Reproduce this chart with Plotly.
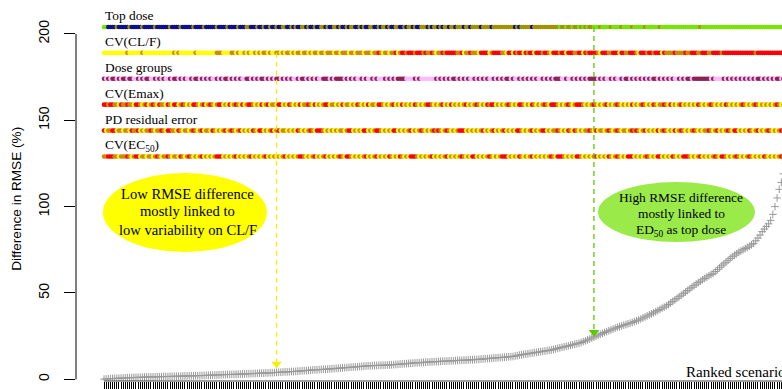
import plotly.graph_objects as go

# ---------------- data ----------------
rmse_diff = [
    0.1, 0.2, 0.3, 0.3, 0.4, 0.5, 0.6, 0.6, 0.7, 0.8,
    0.8, 0.9, 0.9, 1.0, 1.0, 1.1, 1.1, 1.2, 1.2, 1.3,
    1.3, 1.3, 1.4, 1.4, 1.4, 1.5, 1.5, 1.5, 1.6, 1.6,
    1.6, 1.7, 1.7, 1.7, 1.8, 1.8, 1.8, 1.9, 1.9, 1.9,
    2.0, 2.0, 2.0, 2.1, 2.1, 2.1, 2.2, 2.2, 2.3, 2.3,
    2.4, 2.4, 2.5, 2.5, 2.6, 2.6, 2.7, 2.7, 2.8, 2.8,
    2.8, 2.9, 2.9, 3.0, 3.0, 3.1, 3.1, 3.2, 3.2, 3.3,
    3.3, 3.4, 3.4, 3.5, 3.6, 3.6, 3.7, 3.7, 3.8, 3.8,
    3.9, 4.0, 4.1, 4.1, 4.2, 4.3, 4.3, 4.4, 4.5, 4.5,
    4.6, 4.7, 4.8, 4.9, 5.0, 5.1, 5.2, 5.3, 5.4, 5.5,
    5.5, 5.6, 5.7, 5.8, 5.8, 5.9, 6.0, 6.1, 6.2, 6.3,
    6.4, 6.5, 6.6, 6.7, 6.8, 6.9, 7.0, 7.1, 7.2, 7.3,
    7.4, 7.5, 7.6, 7.7, 7.8, 7.8, 7.9, 8.0, 8.0, 8.1,
    8.1, 8.2, 8.2, 8.3, 8.3, 8.4, 8.5, 8.6, 8.7, 8.8,
    8.9, 9.0, 9.1, 9.2, 9.3, 9.4, 9.5, 9.6, 9.6, 9.7,
    9.8, 9.9, 10.0, 10.0, 10.1, 10.2, 10.2, 10.3, 10.4, 10.5,
    10.5, 10.6, 10.6, 10.7, 10.7, 10.8, 10.9, 11.0, 11.0, 11.1,
    11.1, 11.2, 11.3, 11.3, 11.4, 11.5, 11.6, 11.7, 11.8, 11.9,
    12.0, 12.1, 12.2, 12.3, 12.4, 12.5, 12.6, 12.7, 12.8, 12.9,
    13.0, 13.1, 13.2, 13.5, 13.7, 14.0, 14.2, 14.4, 14.6, 14.8,
    15.0, 15.2, 15.4, 15.6, 15.8, 16.0, 16.2, 16.4, 16.6, 16.8,
    17.0, 17.3, 17.6, 17.9, 18.2, 18.5, 18.8, 19.1, 19.4, 19.7,
    20.0, 20.3, 20.6, 20.9, 21.3, 21.8, 22.3, 22.8, 23.3, 23.9,
    24.5, 25.0, 25.6, 26.1, 26.6, 27.1, 27.6, 28.1, 28.6, 29.1,
    29.6, 30.1, 30.5, 30.9, 31.3, 31.7, 32.1, 32.5, 32.9, 33.4,
    33.9, 34.3, 34.9, 35.5, 36.1, 36.7, 37.3, 37.9, 38.5, 39.1,
    39.8, 40.5, 41.2, 41.8, 42.5, 43.3, 44.2, 45.1, 46.0, 46.9,
    47.8, 48.7, 49.6, 50.5, 51.4, 52.4, 53.3, 54.2, 55.1, 56.0,
    56.8, 57.6, 58.4, 59.2, 60.0, 60.7, 61.4, 62.4, 63.5, 64.6,
    65.7, 66.8, 67.8, 68.9, 70.0, 71.0, 71.9, 72.7, 73.5, 74.3,
    75.0, 75.7, 76.4, 77.1, 77.9, 78.7, 80.2, 81.8, 83.5, 85.5,
    87.0, 88.5, 90.0, 92.0, 95.5, 100.0, 105.0, 110.0, 114.0, 119.0,
    125.0, 133.0, 145.0, 160.0,
]
scenario = list(range(len(rmse_diff)))

# factor levels per ranked scenario (one character per scenario)
top_dose = (
    "GGNNNNONNNNNONNNNNON" "NNNNONNNNNNONNNNONNN" "NNONNNNONNNNNONNNNON"
    "NNNONNNOONNNONNONNON" "NONNOONNONONNOONONNO" "NNOONONNOONONNONOONN"
    "ONONNOONNONOONONNOON" "NONOONONNOOONONOONON" "OONOONOOONOONOOOONOO"
    "OONOOOOOOOOOONONOOOO" "ONOOOOOOOOOOOOGOOGOO" "GOOGOGOGOOGGGOGGGGOG"
    "GGGOGGGGOGGGGGOGGGGG" "GOGGGGGGGGGGGGGGGGGG" "OGGGGGGGGGGGGGGGGGGG"
    "GGGGGGGGGGGGGGGGGGGGGGGG"
)
cv_clf = (
    "YYYYYYYYYYYOYYYYYYOY" "YYYYYYYYYYYYYOYOYYYY" "YYYOYYYYYYYYYOOOYYYY"
    "OOYOYYOYOYYOYOYOOYOY" "YOOYOYOOYOYOOYOOYOYO" "OYOOYOOOYOOYOOOYOOYO"
    "OOYOOOYOOROYOOYOORYO" "RRORRRORRROROOROYOOR" "ORRRRROORYOOROOOYRRR"
    "RYORRRROOYRRYRORRYRO" "RRYRRRORROYRRRORRYRR" "ROORRYRORRRROYRRROOR"
    "RRYRROORRROYRRRORROR" "RRYROOOOROOOOROORRRO" "ORRROORRRRORRRRRRRRR"
    "RRRRRRORRRRRRRRRRRRRRRRR"
)
dose_groups = (
    "MPMPMMPMPMMPMMPPMPMP" "MMPPMPMPMPPMPMMPMPMP" "PMPMMPMPMPMPPMPMPMMP"
    "MPMPMPPMMPMPMPMMPMPM" "PMMPMPMPMPPMPMMPMPMP" "MPPMMMPMPMMMMPMPMPMP"
    "PMPMPPMPMPPPMPMPMPMM" "MMPPPPMPMPPPPPPPMPMP" "MPMPMMPMPMPMPPMPMPMP"
    "MPPMPMPMPMMPMPPMPMPM" "PMPMPPMPMPMPMMMPPMPP" "MPMPMPMPMMMMPMPMPPMP"
    "MPPMPMMPMPMPMPMPMPMM" "PMPMPMPMPPMPMPMMPMMM" "MMMMMPMPPPPMPMPMPMPM"
    "PMPMPMPMMPMPMPMPMMPMPMPM"
)
cv_emax = (
    "RRORROOYROOROOYRROYO" "RYOROYROOYROYRRYOROY" "OYRROYORYOROYORRYOYR"
    "YOROYRYORROYOYRYORYO" "OYRRYOYROYOYRYOOROYR" "YOYORRYOOYOYRYOOYOYR"
    "OYOYRYOOYRROYOYORYOY" "RYOYOYROYOYORROYOYOR" "YOYRYOYOYORYOYOROYOY"
    "RORRYOYOYOROYOYRROYO" "YROYOYOROYRRROYOYORO" "YORRROYOYOROYOYORYOY"
    "OROYOYOYRYOYOROYOYRO" "YOOROYRYOYORYOYOYOYR" "OYOYOROYOYOYROYOYOYO"
    "ROYOYOROYOYOYOYOROYOYOYR"
)
pd_resid = (
    "RYOORRYOOYOOYROORYOY" "OOROYOOROYRROOYROYOO" "YOROYORYOOYROYOYORYO"
    "ROYORYOYOYROYRRYOYOR" "YORYOOYOYOYROYOYOROY" "RRROYOYOYOYOOYORRYOY"
    "OYRRYOYORROYOYOYRRYO" "YOYORYOYOROYOYOROROY" "OROYOYORRRYOYOYOYORY"
    "OYORYOYORYOYOYRROYOY" "ORYOYORRYOYOOROYOYRO" "YROYOYOOROYRYOOYOROY"
    "OROYOOYOROROYORYOYOY" "RYOROYOYRYOROYOYOROY" "OYOOROYORYOYOROYRRYO"
    "YOYROYORYOYOROYOYOROYOYO"
)
cv_ec50 = (
    "OORRROOYOOOROYORRYOO" "YOOYOROYOOROYOOYROYO" "ROYOYORYOYOYORRRYOYO"
    "YORYOYOYORYOYOYORYOY" "OYOYORYOYOYORROYOYOR" "YOYORYOYOYOROYRROYOY"
    "OYORYOYORYOYOYROYOYR" "OYOYRRROYOYOYORYOYOY" "ORYOYOYOROYOYRRYOYOY"
    "OROYOYORRRYOYOYROYOY" "ORYOYOYOYOROYRRROYOY" "OYRROYOYOYORYOYOYROY"
    "OROYOYRRRYOYOYOROYOY" "RRYOYOYROYOYRRROYOYO" "RYOYOYOROYRROYOYOROY"
    "OYOROYOYOYROYOYOYOROYOYO"
)

band_names = ["Top dose", "CV(CL/F)", "Dose groups", "CV(Emax)",
              "PD residual error", "CV(EC<sub>50</sub>)"]
band_levels = [204, 189, 174, 159, 144, 129]
band_codes = [top_dose, cv_clf, dose_groups, cv_emax, pd_resid, cv_ec50]

y_ticks = [0, 50, 100, 150, 200]
arrow_scenarios = [81, 230]   # yellow (low CL/F variability), green (ED50 top dose)

# ---------------- styling ----------------
level_colors = {"G": "#76E600", "O": "#A09400", "N": "#10108C"}
cv_colors = {"Y": "#FFFF00", "O": "#D08A00", "R": "#FF0000"}
dg_colors = {"P": "#FFBBFF", "M": "#8E2358"}
band_palettes = [level_colors, cv_colors, dg_colors, cv_colors, cv_colors, cv_colors]

SERIF = "Liberation Serif, Times New Roman, serif"
SANS = "Liberation Sans, Arial, sans-serif"

fig = go.Figure()

# bands of factor levels
for name, lvl, codes, pal in zip(band_names, band_levels, band_codes, band_palettes):
    fig.add_trace(go.Scatter(
        x=scenario, y=[lvl] * len(scenario), mode="markers",
        marker=dict(size=4.6, color=[pal[c] for c in codes], line=dict(width=0)),
        hoverinfo="skip", showlegend=False,
    ))
    fig.add_annotation(x=0, y=lvl + 6.4, xref="x", yref="y", text=name,
                       showarrow=False, xanchor="left", yanchor="middle",
                       xshift=-1, font=dict(family=SERIF, size=13.4, color="black"))

# ranked curve
fig.add_trace(go.Scatter(
    x=scenario, y=rmse_diff, mode="markers",
    marker=dict(symbol="cross-thin", size=5.5, color="#999999",
                line=dict(width=1, color="#999999")),
    hoverinfo="skip", showlegend=False,
))

# ellipses
fig.add_shape(type="circle", xref="x", yref="y", x0=-0.5, x1=76.5, y0=73.7, y1=119.5,
              fillcolor="#FFFF00", line=dict(width=0), layer="below")
fig.add_shape(type="circle", xref="x", yref="y", x0=231.9, x1=305.6, y0=79.5, y1=114.2,
              fillcolor="#9AEA4A", line=dict(width=0), layer="below")

for txt, yv in zip(["Low RMSE difference", "mostly linked to", "low variability on CL/F"],
                   [107.0, 97.5, 86.5]):
    fig.add_annotation(x=39.2, y=yv, xref="x", yref="y", text=txt, showarrow=False,
                       font=dict(family=SERIF, size=14.6, color="black"))
for txt, yv in zip(["High RMSE difference", "mostly linked to", "ED<sub>50</sub> as top dose"],
                   [105.4, 96.0, 86.0]):
    fig.add_annotation(x=271.0, y=yv, xref="x", yref="y", text=txt, showarrow=False,
                       font=dict(family=SERIF, size=13.4, color="black"))

# dashed arrows: dashed shaft + filled triangular head
arrow_cols = ["#F2F200", "#5CC800"]
arrow_from = [band_levels[1], band_levels[0]]
arrow_off = [2.6, 0.6]
head_x, head_y, head_c = [], [], []
for idx, col, y_from, off in zip(arrow_scenarios, arrow_cols, arrow_from, arrow_off):
    y_to = rmse_diff[idx] + off
    fig.add_shape(type="line", xref="x", yref="y", x0=idx, x1=idx, y0=y_from, y1=y_to + 3,
                  line=dict(color=col, width=1.3, dash="5px,4px"))
    head_x.append(idx)
    head_y.append(y_to + 2.2)
    head_c.append(col)
fig.add_trace(go.Scatter(
    x=head_x, y=head_y, mode="markers",
    marker=dict(symbol="triangle-down", size=9, color=head_c, line=dict(width=0)),
    hoverinfo="skip", showlegend=False,
))

# axis title and label
fig.add_annotation(x=272.3, y=4.4, xref="x", yref="y", text="Ranked scenarios",
                   showarrow=False, xanchor="left", yanchor="middle",
                   font=dict(family=SERIF, size=15, color="black"))
fig.add_annotation(x=-0.0836, y=0.478, xref="paper", yref="paper",
                   text="Difference in RMSE (%)", textangle=-90, showarrow=False,
                   xanchor="center", yanchor="middle",
                   font=dict(family=SANS, size=13.6, color="black"))

# axis lines (R style: span only the data/tick range)
fig.add_shape(type="line", xref="paper", yref="y", x0=0, x1=0, y0=0, y1=200,
              line=dict(color="black", width=1))
fig.add_shape(type="line", xref="x", yref="paper", x0=0, x1=scenario[-1], y0=0, y1=0,
              line=dict(color="#404040", width=1))

fig.update_xaxes(range=[-13.15, 318.3], tickvals=scenario, ticks="outside", ticklen=10,
                 tickwidth=1, tickcolor="black", showticklabels=False, showgrid=False,
                 zeroline=False, showline=False, fixedrange=True, automargin=False)
fig.update_yaxes(range=[-0.98, 219.6], tickvals=y_ticks, ticktext=[str(v) for v in y_ticks],
                 ticks="outside", ticklen=11, tickwidth=1, tickcolor="black",
                 tickangle=-90, ticklabelstandoff=9,
                 tickfont=dict(family=SANS, size=14, color="black"),
                 showgrid=False, zeroline=False, showline=False, fixedrange=True,
                 automargin=False)

fig.update_layout(width=782, height=389, margin=dict(l=76, r=0, t=0, b=8),
                  plot_bgcolor="white", paper_bgcolor="white", hovermode=False,
                  showlegend=False)

fig.write_html("out.html", config={"displayModeBar": False},
               post_script="document.body.style.margin='0';")
